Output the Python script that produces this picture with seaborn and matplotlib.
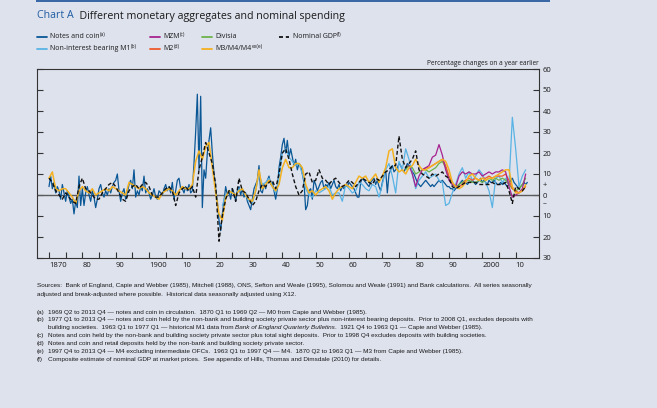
import matplotlib
matplotlib.use("Agg")
import matplotlib.pyplot as plt
from matplotlib.lines import Line2D
from matplotlib.patches import Rectangle
from matplotlib import font_manager
import numpy as np
import pandas as pd
import seaborn as sns

# ---------------- data (percentage changes on a year earlier) ----------------
notes_coin_start, notes_coin_step = 1870.0, 0.5
notes_coin = [
    4, 9, 3, 6, 1, 4, 2, -2, 5, 1, -3, 2, -1, -4, -2, -9, -3, -6, 9, -5,
    3, -5, 1, 4, 0, -3, 2, -1, -6, -2, 3, 5, 1, -1, 2, 0, 3, 1, 4, 6,
    7, 10, 2, -3, 1, 3, -2, 1, 5, 7, 3, 12, -1, 2, 0, 4, 2, 9, 1, 3,
    1, -2, 0, 3, -1, -2, 2, 1, 0, 3, 5, 2, 4, 1, 6, -2, 2, 7, 8, 3,
    3, 1, 4, 2, 5, 1, 2, 15, 30, 48, 12, 47, -6, 12, 8, 20, 26, 32, 20, 10,
    3, -3, -12, -17, -9, -3, 4, 0, 2, -2, 3, 1, -3, 2, 4, 0, 3, -1, 1, -3,
    -5, -7, -2, 3, 5, 7, 14, 2, 1, 5, 3, 7, 9, 5, 6, 2, -2, 3, 13, 18,
    24, 27, 20, 26, 18, 22, 18, 14, 17, 12, 15, 14, 10, 6, -7, -5, 2, 3, -2, 7,
    5, 2, 4, 6, 7, 3, 5, 4, 6, 3, 5, 7, 4, 3, 5, 2, 4, 3, 5, 4,
    6, 5, 4, 3, 1, -1, -1, 6, 8, 7, 6, 5, 4, 6, 7, 8, 5, 7, 4, 2,
    6, 9, 12, 1, 10, 12, 14, 11, 12, 13, 15, 14, 12, 11, 13, 15, 14, 13, 11, 10,
    8, 6, 5, 4, 5, 6, 7, 6, 5, 4, 5, 4, 5, 6, 7, 6, 7, 6, 5, 4,
    4, 3, 3, 2, 3, 4, 5, 6, 7, 6, 6, 5, 6, 6, 7, 6, 5, 6, 7, 8,
    6, 7, 6, 5, 7, 6, 6, 7, 6, 5, 5, 6, 5, 6, 5, 4, 5, 7, 8, 6,
    5, 4, 3, 4, 5, 6, 5, 6,
]

m1_start = 1922
non_interest_m1 = [
    -5, 0, 2, 1, 0, 3, 2, 0,
    -3, -4, 2, 10, 5, 6, 8, 4, 1, 8,
    20, 22, 18, 16, 14, 15, 10, 3, 0, -1,
    2, 1, 2, 3, 4, 0, 1, 1, -3, 5,
    3, 1, 2, 6, 5, 3, 2, 5, 4, -1,
    5, 12, 15, 9, 1, 16, 12, 22, 17, 10,
    3, 7, 9, 11, 8, 9, 10, 7, 6, -5,
    -4, 1, 5, 10, 13, 8, 11, 7, 9, 12,
    10, 6, 2, -6, 8, 9, 6, 8, 5, 37,
    22, 4, 9, 12,
]

mzm_start = 1978
mzm = [14, 10, 4, 9, 12, 13, 14, 18, 19, 24,
       19, 12, 7, 5, 4, 9, 11, 10, 11, 10,
       10, 11, 9, 10, 11, 10, 11, 11, 12, 11,
       4, -1, 0, 1, 3, 10]

m2_start = 1982
m2 = [12, 13, 13, 14, 15, 16, 17, 14, 9, 6,
      4, 4, 5, 7, 8, 7, 8, 7, 8, 8,
      9, 8, 9, 9, 9, 10, 7, 3, 2, 1,
      2, 4]

divisia_start = 1977
divisia = [12, 14, 13, 10, 11, 12, 12, 11, 12, 13,
           15, 16, 13, 8, 5, 4, 5, 6, 7, 7,
           6, 6, 7, 6, 7, 8, 7, 8, 7, 8,
           7, 5, 3, 2, 3, 5, 8]

m3m4_start = 1870
m3m4 = [
    8, 11, 3, 2, 3, 3, 1, -1, -4, 2,
    4, 2, 1, 3, 0, 1, 2, 3, 2, 4,
    3, 2, 1, 0, 6, 5, 4, 3, 4, 3,
    1, 0, -1, -2, 1, 2, 3, 2, 0, 2,
    4, 3, 3, 5, 16, 21, 17, 23, 25, 13,
    1, -9, -12, -1, 2, 1, 0, 2, 3, 0,
    -2, -3, 2, 12, 3, 5, 7, 4, 2, 5,
    13, 17, 13, 13, 15, 15, 13, 5, 1, 2,
    0, 2, 3, 4, 2, -2, 1, 3, 4, 5,
    4, 3, 6, 9, 8, 9, 6, 8, 10, 6,
    9, 13, 21, 22, 13, 11, 12, 10, 13, 14,
    17, 14, 12, 12, 13, 14, 15, 16, 17, 16,
    12, 6, 4, 3, 4, 6, 9, 10, 8, 7,
    8, 7, 8, 8, 9, 10, 11, 12, 12, 4,
    1, 1, 2, 5,
]

gdp_start = 1870
nominal_gdp = [
    8, 6, 2, 0, -2, 1, -1, -3, -4, 4,
    8, 3, 2, 0, -2, -2, 1, 3, 5, 6,
    4, 1, -2, -3, 2, 4, 5, 3, 5, 6,
    4, 0, -1, -1, 1, 3, 4, 2, -5, 1,
    3, 4, 2, 4, -1, 12, 18, 25, 20, 15,
    5, -22, -10, -2, 2, 3, -3, 8, 2, 1,
    -2, -5, -3, 2, 5, 4, 6, 7, 3, 10,
    20, 22, 17, 10, 4, 0, 2, 10, 11, 6,
    7, 12, 8, 7, 5, 7, 8, 6, 4, 5,
    7, 6, 4, 6, 8, 7, 6, 5, 8, 7,
    9, 11, 12, 14, 14, 28, 17, 13, 15, 17,
    21, 12, 10, 9, 8, 10, 9, 10, 11, 9,
    8, 4, 3, 4, 5, 6, 6, 6, 6, 5,
    5, 5, 5, 6, 5, 5, 5, 6, 2, -4,
    4, 3, 2, 4,
]

decade_ticks = list(range(1870, 2011, 10))
decade_labels = ["1870", "80", "90", "1900", "10", "20", "30", "40", "50",
                 "60", "70", "80", "90", "2000", "10"]
y_ticks = list(range(-30, 61, 10))
y_labels = [str(abs(v)) for v in y_ticks]

# ---------------- styling ----------------
W, H = 657, 408
BG = "#dee2ed"
C_NOTES = "#0a5796"
C_M1 = "#58b3e4"
C_MZM = "#a6228f"
C_M2 = "#ef5a2c"
C_DIV = "#6cb24a"
C_M3 = "#f4b120"
C_GDP = "#111111"
TXT = "#1a1a1a"

fams = {f.name for f in font_manager.fontManager.ttflist}
MAIN = "Open Sans" if "Open Sans" in fams else "DejaVu Sans"
if "Liberation Sans Narrow" in fams:
    NARROW = "Liberation Sans Narrow"
elif "Liberation Sans" in fams:
    NARROW = "Liberation Sans"
else:
    NARROW = MAIN

sns.set_style("white")
plt.rcParams["font.family"] = [MAIN, "DejaVu Sans"]

fig = plt.figure(figsize=(W / 100, H / 100), dpi=100, facecolor=BG)
ax = fig.add_axes([37 / W, 1 - 258 / H, (539 - 37) / W, (258 - 69) / H], facecolor=BG)


def series(start, step, vals):
    years = start + step * np.arange(len(vals))
    return pd.DataFrame({"year": years, "value": vals})


ax.axhline(0, color="#5a5a5a", lw=1.0, zorder=1)

lw = 0.9
sns.lineplot(data=series(notes_coin_start, notes_coin_step, notes_coin), x="year", y="value",
             ax=ax, color=C_NOTES, lw=lw, zorder=2)
sns.lineplot(data=series(m1_start, 1, non_interest_m1), x="year", y="value",
             ax=ax, color=C_M1, lw=lw, zorder=3)
sns.lineplot(data=series(divisia_start, 1, divisia), x="year", y="value",
             ax=ax, color=C_DIV, lw=lw, zorder=4)
sns.lineplot(data=series(m2_start, 1, m2), x="year", y="value",
             ax=ax, color=C_M2, lw=lw, zorder=5)
sns.lineplot(data=series(mzm_start, 1, mzm), x="year", y="value",
             ax=ax, color=C_MZM, lw=lw, zorder=6)
sns.lineplot(data=series(m3m4_start, 1, m3m4), x="year", y="value",
             ax=ax, color=C_M3, lw=1.1, zorder=7)
sns.lineplot(data=series(gdp_start, 1, nominal_gdp), x="year", y="value",
             ax=ax, color=C_GDP, lw=1.0, linestyle=(0, (2.8, 1.7)), zorder=8)

ax.set_xlim(1866.4, 2017.0)
ax.set_ylim(-30, 60)
ax.set_xlabel("")
ax.set_ylabel("")

ax.set_xticks(list(range(1870, 2011, 5)))
xl = []
for t in range(1870, 2011, 5):
    xl.append(decade_labels[decade_ticks.index(t)] if t in decade_ticks else "")
ax.set_xticklabels(xl, fontsize=5.5, color=TXT)
for lbl in ax.get_xticklabels():
    lbl.set_ha("left")
ax.tick_params(axis="x", direction="in", length=4.5, width=0.8, color="#333333",
               bottom=True, top=False, pad=3)

ax.set_yticks(y_ticks)
ax.set_yticklabels(y_labels, fontsize=5.5, color=TXT)
ax.yaxis.set_ticks_position("both")
ax.tick_params(axis="y", direction="in", length=4.5, width=0.8, color="#333333",
               left=True, right=True, labelleft=False, labelright=True, pad=2.5)

for s in ax.spines.values():
    s.set_color("#333333")
    s.set_linewidth(0.8)

# + / - signs on right axis
ax.text(1.008, 4.4, "+", transform=ax.get_yaxis_transform(), fontsize=5.5,
        ha="left", va="center", color=TXT)
ax.text(1.008, -4.0, "\u2013", transform=ax.get_yaxis_transform(), fontsize=5.5,
        ha="left", va="center", color=TXT)

ax.text(1.0, 1.012, "Percentage changes on a year earlier", transform=ax.transAxes,
        fontsize=4.7, ha="right", va="bottom", color=TXT)

# top rule
fig.add_artist(Rectangle((36 / W, 1 - 2 / H), (550 - 36) / W, 2 / H,
                         transform=fig.transFigure, color="#3a68a6", lw=0))

renderer = fig.canvas.get_renderer()


def seg_text(x_px, base_px, segments, size, family=MAIN, color=TXT):
    x = x_px
    for seg in segments:
        if isinstance(seg, str):
            s, opt = seg, {}
        else:
            s, opt = seg
        fs = size * 0.72 if opt.get("sup") else size
        dy = size * 0.42 * 100 / 72 if opt.get("sup") else 0
        t = fig.text(x / W, 1 - (base_px - dy) / H, s, fontsize=fs, family=[family, "DejaVu Sans"],
                     style=opt.get("style", "normal"), color=opt.get("color", color),
                     ha="left", va="baseline")
        x += t.get_window_extent(renderer).width
    return x


# title
seg_text(37, 18.5, [("Chart A", {"color": "#1f5ca4"}), "  Different monetary aggregates and nominal spending"],
         7.7)

# legend
LEG = 5.0
def leg_line(x0, x1, y, color, ls="-"):
    fig.add_artist(Line2D([x0 / W, x1 / W], [1 - y / H, 1 - y / H], color=color, lw=1.3,
                          linestyle=ls, transform=fig.transFigure))

r1, r2 = 36.5, 48.5
leg_line(37, 47, r1, C_NOTES)
seg_text(50, r1 + 2, ["Notes and coin", ("(a)", {"sup": True})], LEG)
leg_line(37, 47, r2, C_M1)
seg_text(50, r2 + 2, ["Non-interest bearing M1", ("(b)", {"sup": True})], LEG)
leg_line(150, 160, r1, C_MZM)
seg_text(163, r1 + 2, ["MZM", ("(c)", {"sup": True})], LEG)
leg_line(150, 160, r2, C_M2)
seg_text(163, r2 + 2, ["M2", ("(d)", {"sup": True})], LEG)
leg_line(202, 212, r1, C_DIV)
seg_text(215, r1 + 2, ["Divisia"], LEG)
leg_line(202, 212, r2, C_M3)
seg_text(215, r2 + 2, ["M3/M4/M4", ("ex(e)", {"sup": True})], LEG)
leg_line(279, 289, r1, C_GDP, ls=(0, (2.2, 1.6)))
seg_text(293, r1 + 2, ["Nominal GDP", ("(f)", {"sup": True})], LEG)

# footnotes - fit size so the long first line spans the same width
src1 = ("Sources:  Bank of England, Capie and Webber (1985), Mitchell (1988), ONS, Sefton and Weale (1995), "
        "Solomou and Weale (1991) and Bank calculations.  All series seasonally")
probe = fig.text(0, 0, src1, fontsize=5.0, family=[NARROW, "DejaVu Sans"])
FN = 5.0 * 511 / probe.get_window_extent(renderer).width
probe.remove()

seg_text(37, 287, [src1], FN, NARROW)
seg_text(37, 296, ["adjusted and break-adjusted where possible.  Historical data seasonally adjusted using X12."], FN, NARROW)
notes = [
    (313.7, "(a)", ["1969 Q2 to 2013 Q4 \u2014 notes and coin in circulation.  1870 Q1 to 1969 Q2 \u2014 M0 from Capie and Webber (1985)."]),
    (321.3, "(b)", ["1977 Q1 to 2013 Q4 \u2014 notes and coin held by the non-bank and building society private sector plus non-interest bearing deposits.  Prior to 2008 Q1, excludes deposits with"]),
    (329.3, "", ["building societies.  1963 Q1 to 1977 Q1 \u2014 historical M1 data from ",
                 ("Bank of England Quarterly Bulletins", {"style": "italic"}),
                 ".  1921 Q4 to 1963 Q1 \u2014 Capie and Webber (1985)."]),
    (337, "(c)", ["Notes and coin held by the non-bank and building society private sector plus total sight deposits.  Prior to 1998 Q4 excludes deposits with building societies."]),
    (344.7, "(d)", ["Notes and coin and retail deposits held by the non-bank and building society private sector."]),
    (353, "(e)", ["1997 Q4 to 2013 Q4 \u2014 M4 excluding intermediate OFCs.  1963 Q1 to 1997 Q4 \u2014 M4.  1870 Q2 to 1963 Q1 \u2014 M3 from Capie and Webber (1985)."]),
    (361, "(f)", ["Composite estimate of nominal GDP at market prices.  See appendix of Hills, Thomas and Dimsdale (2010) for details."]),
]
for yb, tag, segs in notes:
    if tag:
        seg_text(37, yb, [tag], FN, NARROW)
    seg_text(48, yb, segs, FN, NARROW)

fig.savefig("out.png", dpi=100, facecolor=BG)
